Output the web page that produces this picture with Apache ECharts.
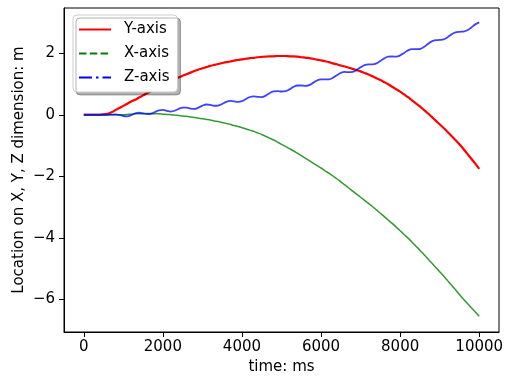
<!DOCTYPE html>
<html>
<head>
<meta charset="utf-8">
<script src="https://cdn.jsdelivr.net/npm/echarts@6.0.0/dist/echarts.min.js"></script>
<style>
  html, body { margin: 0; padding: 0; background: #fff; }
  #chart { width: 514px; height: 381px; }
</style>
</head>
<body>
<div id="chart"></div>
<script>
// Sample times (ms)
const timeMs = [
  0, 100, 200, 300, 400, 500, 600, 700, 800, 900,
  1000, 1100, 1200, 1300, 1400, 1500, 1600, 1700, 1800, 1900,
  2000, 2100, 2200, 2300, 2400, 2500, 2600, 2700, 2800, 2900,
  3000, 3100, 3200, 3300, 3400, 3500, 3600, 3700, 3800, 3900,
  4000, 4100, 4200, 4300, 4400, 4500, 4600, 4700, 4800, 4900,
  5000, 5100, 5200, 5300, 5400, 5500, 5600, 5700, 5800, 5900,
  6000, 6100, 6200, 6300, 6400, 6500, 6600, 6700, 6800, 6900,
  7000, 7100, 7200, 7300, 7400, 7500, 7600, 7700, 7800, 7900,
  8000, 8100, 8200, 8300, 8400, 8500, 8600, 8700, 8800, 8900,
  9000, 9100, 9200, 9300, 9400, 9500, 9600, 9700, 9800, 9900,
  10000
];

// Location along Y (m)
const locY = [
  0, 0, 0, 0, 0, 0.01, 0.03, 0.08, 0.15, 0.22,
  0.29, 0.36, 0.43, 0.49, 0.56, 0.63, 0.70, 0.76, 0.83, 0.90,
  0.96, 1.03, 1.09, 1.15, 1.21, 1.27, 1.32, 1.37, 1.42, 1.47,
  1.51, 1.55, 1.59, 1.62, 1.65, 1.68, 1.71, 1.73, 1.76, 1.78,
  1.80, 1.82, 1.84, 1.85, 1.87, 1.88, 1.89, 1.90, 1.90, 1.91,
  1.91, 1.91, 1.90, 1.90, 1.89, 1.87, 1.86, 1.84, 1.82, 1.79,
  1.77, 1.74, 1.71, 1.67, 1.64, 1.60, 1.57, 1.53, 1.49, 1.45,
  1.41, 1.36, 1.31, 1.25, 1.19, 1.13, 1.06, 0.99, 0.91, 0.83,
  0.75, 0.66, 0.57, 0.47, 0.37, 0.27, 0.16, 0.05, -0.07, -0.19,
  -0.31, -0.43, -0.56, -0.69, -0.82, -0.96, -1.11, -1.27, -1.43, -1.59,
  -1.76
];

// Location along X (m)
const locX = [
  0, 0, 0, 0, 0, 0, 0, 0, 0, 0,
  0, 0.01, 0.02, 0.03, 0.03, 0.04, 0.04, 0.04, 0.03, 0.03,
  0.02, 0.01, 0, -0.01, -0.02, -0.04, -0.05, -0.07, -0.09, -0.11,
  -0.13, -0.15, -0.17, -0.20, -0.22, -0.25, -0.28, -0.31, -0.35, -0.38,
  -0.42, -0.46, -0.50, -0.54, -0.59, -0.64, -0.70, -0.76, -0.82, -0.89,
  -0.96, -1.03, -1.10, -1.17, -1.25, -1.33, -1.41, -1.49, -1.57, -1.65,
  -1.73, -1.82, -1.90, -1.99, -2.08, -2.18, -2.28, -2.38, -2.48, -2.58,
  -2.68, -2.78, -2.88, -2.98, -3.09, -3.20, -3.31, -3.42, -3.53, -3.65,
  -3.77, -3.89, -4.01, -4.14, -4.27, -4.40, -4.54, -4.68, -4.82, -4.96,
  -5.10, -5.24, -5.39, -5.54, -5.69, -5.84, -5.99, -6.13, -6.27, -6.41,
  -6.55
];

// Location along Z (m)
const locZ = [
  0, 0, 0, 0, 0, 0, 0, 0.004, 0.012, -0.005,
  -0.04, -0.05, -0.012, 0.046, 0.069, 0.046, 0.019, 0.032, 0.089, 0.144,
  0.156, 0.127, 0.105, 0.130, 0.190, 0.234, 0.233, 0.202, 0.193, 0.233,
  0.296, 0.333, 0.321, 0.293, 0.299, 0.351, 0.419, 0.449, 0.434, 0.417,
  0.442, 0.513, 0.578, 0.598, 0.581, 0.576, 0.623, 0.702, 0.761, 0.771,
  0.757, 0.767, 0.826, 0.905, 0.952, 0.951, 0.940, 0.966, 1.037, 1.114,
  1.149, 1.150, 1.153, 1.201, 1.287, 1.363, 1.391, 1.385, 1.395, 1.454,
  1.541, 1.613, 1.636, 1.637, 1.668, 1.746, 1.834, 1.887, 1.893, 1.892,
  1.930, 2.011, 2.094, 2.133, 2.132, 2.138, 2.201, 2.300, 2.386, 2.424,
  2.431, 2.451, 2.520, 2.613, 2.679, 2.696, 2.706, 2.748, 2.838, 2.938,
  3.001
];

const xTicks = [0, 2000, 4000, 6000, 8000, 10000];
const yTicks = [-6, -4, -2, 0, 2];
const seriesNames = ['Y-axis', 'X-axis', 'Z-axis'];

const FONT = 'DejaVu Sans';
const pairs = vals => timeMs.map((t, i) => [t, vals[i]]);
const minusSign = v => String(v).replace('-', '\u2212');
// legend keys show the line only, no marker
const noMarker = { color: 'rgba(0,0,0,0)', opacity: 0, borderWidth: 0 };

const chart = echarts.init(document.getElementById('chart'), null, { renderer: 'canvas' });

chart.setOption({
  animation: false,
  backgroundColor: '#fff',
  textStyle: { fontFamily: FONT },
  grid: {
    left: 64, right: 15, top: 8, bottom: 49,
    show: true, borderColor: '#000', borderWidth: 1, backgroundColor: 'transparent'
  },
  xAxis: {
    type: 'value',
    min: -500, max: 10500,
    name: 'time: ms',
    nameLocation: 'middle',
    nameGap: 28,
    nameMoveOverlap: false,
    nameTextStyle: { fontFamily: FONT, fontSize: 15, color: '#000' },
    axisLine: { onZero: false, lineStyle: { color: '#000', width: 1 } },
    axisTick: { show: true, length: 5, customValues: xTicks, lineStyle: { color: '#000' } },
    axisLabel: {
      customValues: xTicks, margin: 8, fontFamily: FONT, fontSize: 15, color: '#000',
      formatter: v => String(v)
    },
    splitLine: { show: false }
  },
  yAxis: {
    type: 'value',
    min: -7.06, max: 3.47,
    name: 'Location on X, Y, Z dimension: m',
    nameLocation: 'middle',
    nameGap: 37,
    nameRotate: 90,
    nameMoveOverlap: false,
    nameTextStyle: { fontFamily: FONT, fontSize: 15, color: '#000' },
    axisLine: { show: true, onZero: false, lineStyle: { color: '#000', width: 1 } },
    axisTick: { show: true, length: 5, customValues: yTicks, lineStyle: { color: '#000' } },
    axisLabel: {
      customValues: yTicks, margin: 9, fontFamily: FONT, fontSize: 15, color: '#000',
      formatter: v => minusSign(v)
    },
    splitLine: { show: false }
  },
  legend: {
    orient: 'vertical',
    left: 73, top: 15,
    itemWidth: 32, itemHeight: 14, itemGap: 9,
    padding: [7, 8, 7, 5],
    backgroundColor: '#fff',
    borderColor: '#cccccc', borderWidth: 1, borderRadius: 4,
    shadowColor: 'rgba(0,0,0,0.3)', shadowBlur: 0, shadowOffsetX: 3, shadowOffsetY: 3,
    textStyle: { fontFamily: FONT, fontSize: 15, color: '#000', padding: [0, 0, 0, 8] },
    data: [
      { name: seriesNames[0], itemStyle: noMarker, lineStyle: { color: '#ff0000', width: 2, type: 'solid' } },
      { name: seriesNames[1], itemStyle: noMarker, lineStyle: { color: '#008000', width: 2, type: [7.5, 3.3], opacity: 1 } },
      { name: seriesNames[2], itemStyle: noMarker, lineStyle: { color: '#0000ff', width: 2, type: [13, 4, 2.5, 4], opacity: 1 } }
    ]
  },
  series: [
    {
      name: seriesNames[0], type: 'line', data: pairs(locY),
      symbol: 'none', smooth: 0.3,
      lineStyle: { color: '#ff0000', width: 2.2 }, itemStyle: { color: '#ff0000' }
    },
    {
      name: seriesNames[1], type: 'line', data: pairs(locX),
      symbol: 'none', smooth: 0.3,
      lineStyle: { color: '#008000', width: 1.5, opacity: 0.8 }, itemStyle: { color: '#008000' }
    },
    {
      name: seriesNames[2], type: 'line', data: pairs(locZ),
      symbol: 'none', smooth: 0.4,
      lineStyle: { color: '#0000ff', width: 1.8, opacity: 0.75 }, itemStyle: { color: '#0000ff' }
    }
  ]
});
</script>
</body>
</html>
